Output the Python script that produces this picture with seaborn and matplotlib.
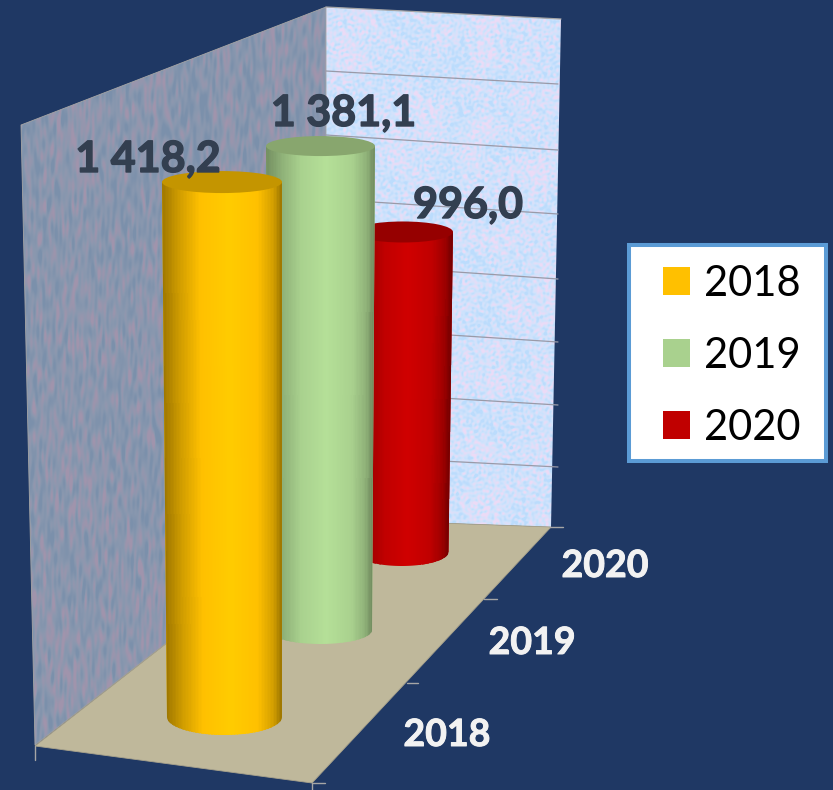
import numpy as np
import seaborn as sns
import matplotlib.pyplot as plt
import matplotlib.patheffects as pe
from matplotlib.colors import LinearSegmentedColormap, to_rgb
from matplotlib.patches import Ellipse, Patch, Polygon, Rectangle
from matplotlib.path import Path

# data
years = ['2018', '2019', '2020']
values = [1418.2, 1381.1, 996.0]
value_labels = ['1 418,2', '1 381,1', '996,0']
colors = ['#FFC000', '#A9D18E', '#C00000']

W, H = 833, 790
BG = '#1F3864'

# perspective layout, in picture pixels, front cylinder first
top_left = [162, 266, 353]
top_right = [282, 375, 453]
base_left = [167, 269, 355]
base_right = [282, 372, 448.5]
base_y = [717, 630, 552]
px_per_value = [0.3772, 0.3504, 0.3213]
cap_half = [11, 10, 10.5]
base_half = [18, 14, 14]
cap_colors = ['#C49500', '#88A66E', '#960000']
label_xy = [(148, 172), (343.5, 126), (468, 218)]
tick_label_xy = [(447, 746), (532, 654), (605, 577)]
AXIS_MAX = 1500

sns.set_theme(style='white')
plt.rcParams['font.family'] = ['Lato', 'DejaVu Sans']


def wave_layer(xx, yy, low, high, stretch_y, terms, shift):
    # waves turning by the golden angle, so no direction stands out
    phi = 0.6180339887
    out = np.zeros(xx.shape)
    for i in range(1, terms + 1):
        freq = low + (high - low) * (((i + shift) * 0.7548776662) % 1)
        angle = 2 * np.pi * i * phi
        fx = freq * np.cos(angle)
        fy = freq * np.sin(angle) * stretch_y
        out += np.sin(fx * xx + fy * yy + i * 2.399 + shift)
    return out


def speckle(width, height, stretch_y=1.0):
    # deterministic mottled wall texture
    yy, xx = np.mgrid[0:height, 0:width]
    tex = 0.6 * wave_layer(xx, yy, 0.04, 0.2, stretch_y, 80, 0) + wave_layer(xx, yy, 0.4, 1.6, stretch_y, 160, 7)
    lo, hi = np.percentile(tex, [3, 97])
    return np.clip((tex - lo) / (hi - lo), 0, 1)


def body_outline(tl, tr, bl, br, top, base, half):
    # top edge, right side, front half of the base ellipse, left side
    t = np.linspace(0, np.pi, 60)
    cx = (bl + br) / 2
    rx = (br - bl) / 2
    arc = np.column_stack([cx + rx * np.cos(t), base + half * np.sin(t)])
    pts = np.vstack([[tl, top], [tr, top], arc, [tl, top]])
    return Path(pts)


def shade_cmap(color, dark, peak):
    base = np.array(to_rgb(color))
    stops = [(0.0, base * dark), (0.14, base * (dark + 1) / 2), (0.32, base),
             (0.56, np.minimum(base * peak, 1)), (0.8, base), (0.93, base * (dark + 1.2) / 2.2), (1.0, base * dark)]
    return LinearSegmentedColormap.from_list('shade', stops)


fig = plt.figure(figsize=(W / 100, H / 100), dpi=100, facecolor=BG)
scene = fig.add_axes([0, 0, 1, 1], zorder=0)
scene.set_xlim(0, W)
scene.set_ylim(H, 0)
scene.axis('off')

# walls
left_cmap = LinearSegmentedColormap.from_list('lw', ['#7B90AB', '#8A98AF', '#A094AC'])
back_cmap = LinearSegmentedColormap.from_list('bw', ['#BBDCFD', '#D0E3FC', '#EBDBF6'])
left_wall = Polygon([(21, 125), (326, 7), (326, 519), (35, 745)], closed=True, fc='none', ec='#A6A6A6', lw=0.6)
back_wall = Polygon([(326, 7), (561, 19), (551, 527), (326, 519)], closed=True, fc='none', ec='none')
scene.add_patch(left_wall)
scene.add_patch(back_wall)
im = scene.imshow(speckle(W, H, stretch_y=0.2), cmap=left_cmap, extent=(0, W, H, 0), aspect='auto', zorder=0.5)
im.set_clip_path(left_wall)
im2 = scene.imshow(speckle(W, H), cmap=back_cmap, extent=(0, W, H, 0), aspect='auto', zorder=0.5)
im2.set_clip_path(back_wall)
scene.set_xlim(0, W)
scene.set_ylim(H, 0)

# grid lines of the value axis, on the back wall
grid_left = [71, 135, 199, 263, 327, 391, 455]
grid_right = [84, 150, 214, 279, 342, 405, 467]
for yl, yr in zip(grid_left, grid_right):
    scene.plot([326, 558], [yl, yr], color='#9A9AA8', lw=0.9, zorder=1)
scene.plot([326, 561], [7, 19], color='#A6A6A6', lw=0.9, zorder=1)

# floor
scene.add_patch(Polygon([(35, 746), (326, 519), (551, 527), (312, 783)], closed=True,
                        fc='#BFB89B', ec='#A8A28C', lw=0.6, zorder=2))

# depth axis ticks
for x0, x1, y in [(312, 325, 783), (407, 418, 683), (484, 497, 599), (549, 563, 527)]:
    scene.plot([x0, x1], [y, y], color='#A6A6A6', lw=1, zorder=2)
scene.plot([312, 312], [783, 790], color='#A6A6A6', lw=1, zorder=2)
scene.plot([35, 35], [746, 760], color='#A6A6A6', lw=1, zorder=2)

# cylinders, back to front
for i in [2, 1, 0]:
    span = px_per_value[i] * AXIS_MAX
    rect = [top_left[i] / W, 1 - base_y[i] / H, (top_right[i] - top_left[i]) / W, span / H]
    ax = fig.add_axes(rect, zorder=1 - i * 0.1)
    sns.barplot(x=[years[i]], y=[values[i]], color=colors[i], width=1, saturation=1, ax=ax)
    bar = ax.patches[0]
    ax.set_xlim(-0.5, 0.5)
    ax.set_ylim(0, AXIS_MAX)
    ax.axis('off')

    # the value axis gives the height of the cylinder
    top_px = scene.transData.inverted().transform(ax.transData.transform((0, values[i])))[1]
    outline = body_outline(top_left[i], top_right[i], base_left[i], base_right[i], top_px, base_y[i], base_half[i])
    bar.set_clip_path(outline, scene.transData)
    bar.set_clip_box(None)
    bar.set_edgecolor('none')

    # shaded surface, following the taper
    skin = fig.add_axes(rect, zorder=1.01 - i * 0.1)
    skin.axis('off')
    u = np.linspace(0, 1, 81)
    low = base_y[i] + base_half[i]
    f = (low - top_px) / (base_y[i] - top_px)
    xs_top = top_left[i] + u * (top_right[i] - top_left[i])
    xs_low = top_left[i] + (base_left[i] - top_left[i]) * f + u * (
        (top_right[i] - top_left[i]) + ((base_right[i] - base_left[i]) - (top_right[i] - top_left[i])) * f)
    X = np.vstack([xs_top, xs_low])
    Y = np.vstack([np.full_like(u, top_px), np.full_like(u, low)])
    C = ((u[:-1] + u[1:]) / 2)[None, :]
    mesh = skin.pcolormesh(X, Y, C, cmap=shade_cmap(colors[i], [0.62, 0.68, 0.62][i], [1.06, 1.07, 1.08][i]),
                           vmin=0, vmax=1, transform=scene.transData, shading='flat')
    mesh.set_clip_path(outline, scene.transData)
    mesh.set_clip_box(None)

    cap = Ellipse(((top_left[i] + top_right[i]) / 2, top_px), top_right[i] - top_left[i], cap_half[i] * 2,
                  fc=cap_colors[i], ec='none', transform=scene.transData, clip_on=False, zorder=5)
    skin.add_patch(cap)

# labels, slightly thickened since the font is lighter than the original
for lab, (x, y) in zip(value_labels, label_xy):
    t = fig.text(x / W, 1 - y / H, lab, ha='center', va='baseline', fontsize=31, fontweight='bold',
                 color='#333F50', zorder=10)
    t.set_path_effects([pe.withStroke(linewidth=1.0, foreground='#333F50')])
for lab, (x, y) in zip(years, tick_label_xy):
    t = fig.text(x / W, 1 - y / H, lab, ha='center', va='baseline', fontsize=27, fontweight='bold',
                 color='#F2F2F2', zorder=10)
    t.set_path_effects([pe.withStroke(linewidth=0.7, foreground='#F2F2F2')])

# legend: box and entries placed apart, the box is wider on the left
scene.add_patch(Rectangle((629, 245), 197, 216, fc='white', ec='#5B9BD5', lw=2.9, zorder=3))
handles = [Patch(facecolor=c, edgecolor='none', label=y) for c, y in zip(colors, years)]
leg = fig.legend(handles=handles, loc='upper left', bbox_to_anchor=(663 / W, 1 - 264.5 / H), borderaxespad=0,
                 fontsize=30, frameon=False, handlelength=0.65, handleheight=0.65, handletextpad=0.34,
                 labelspacing=0.82, borderpad=0, labelcolor='black')
leg.set_zorder(10)

plt.savefig('out.png', dpi=100, facecolor=BG)
